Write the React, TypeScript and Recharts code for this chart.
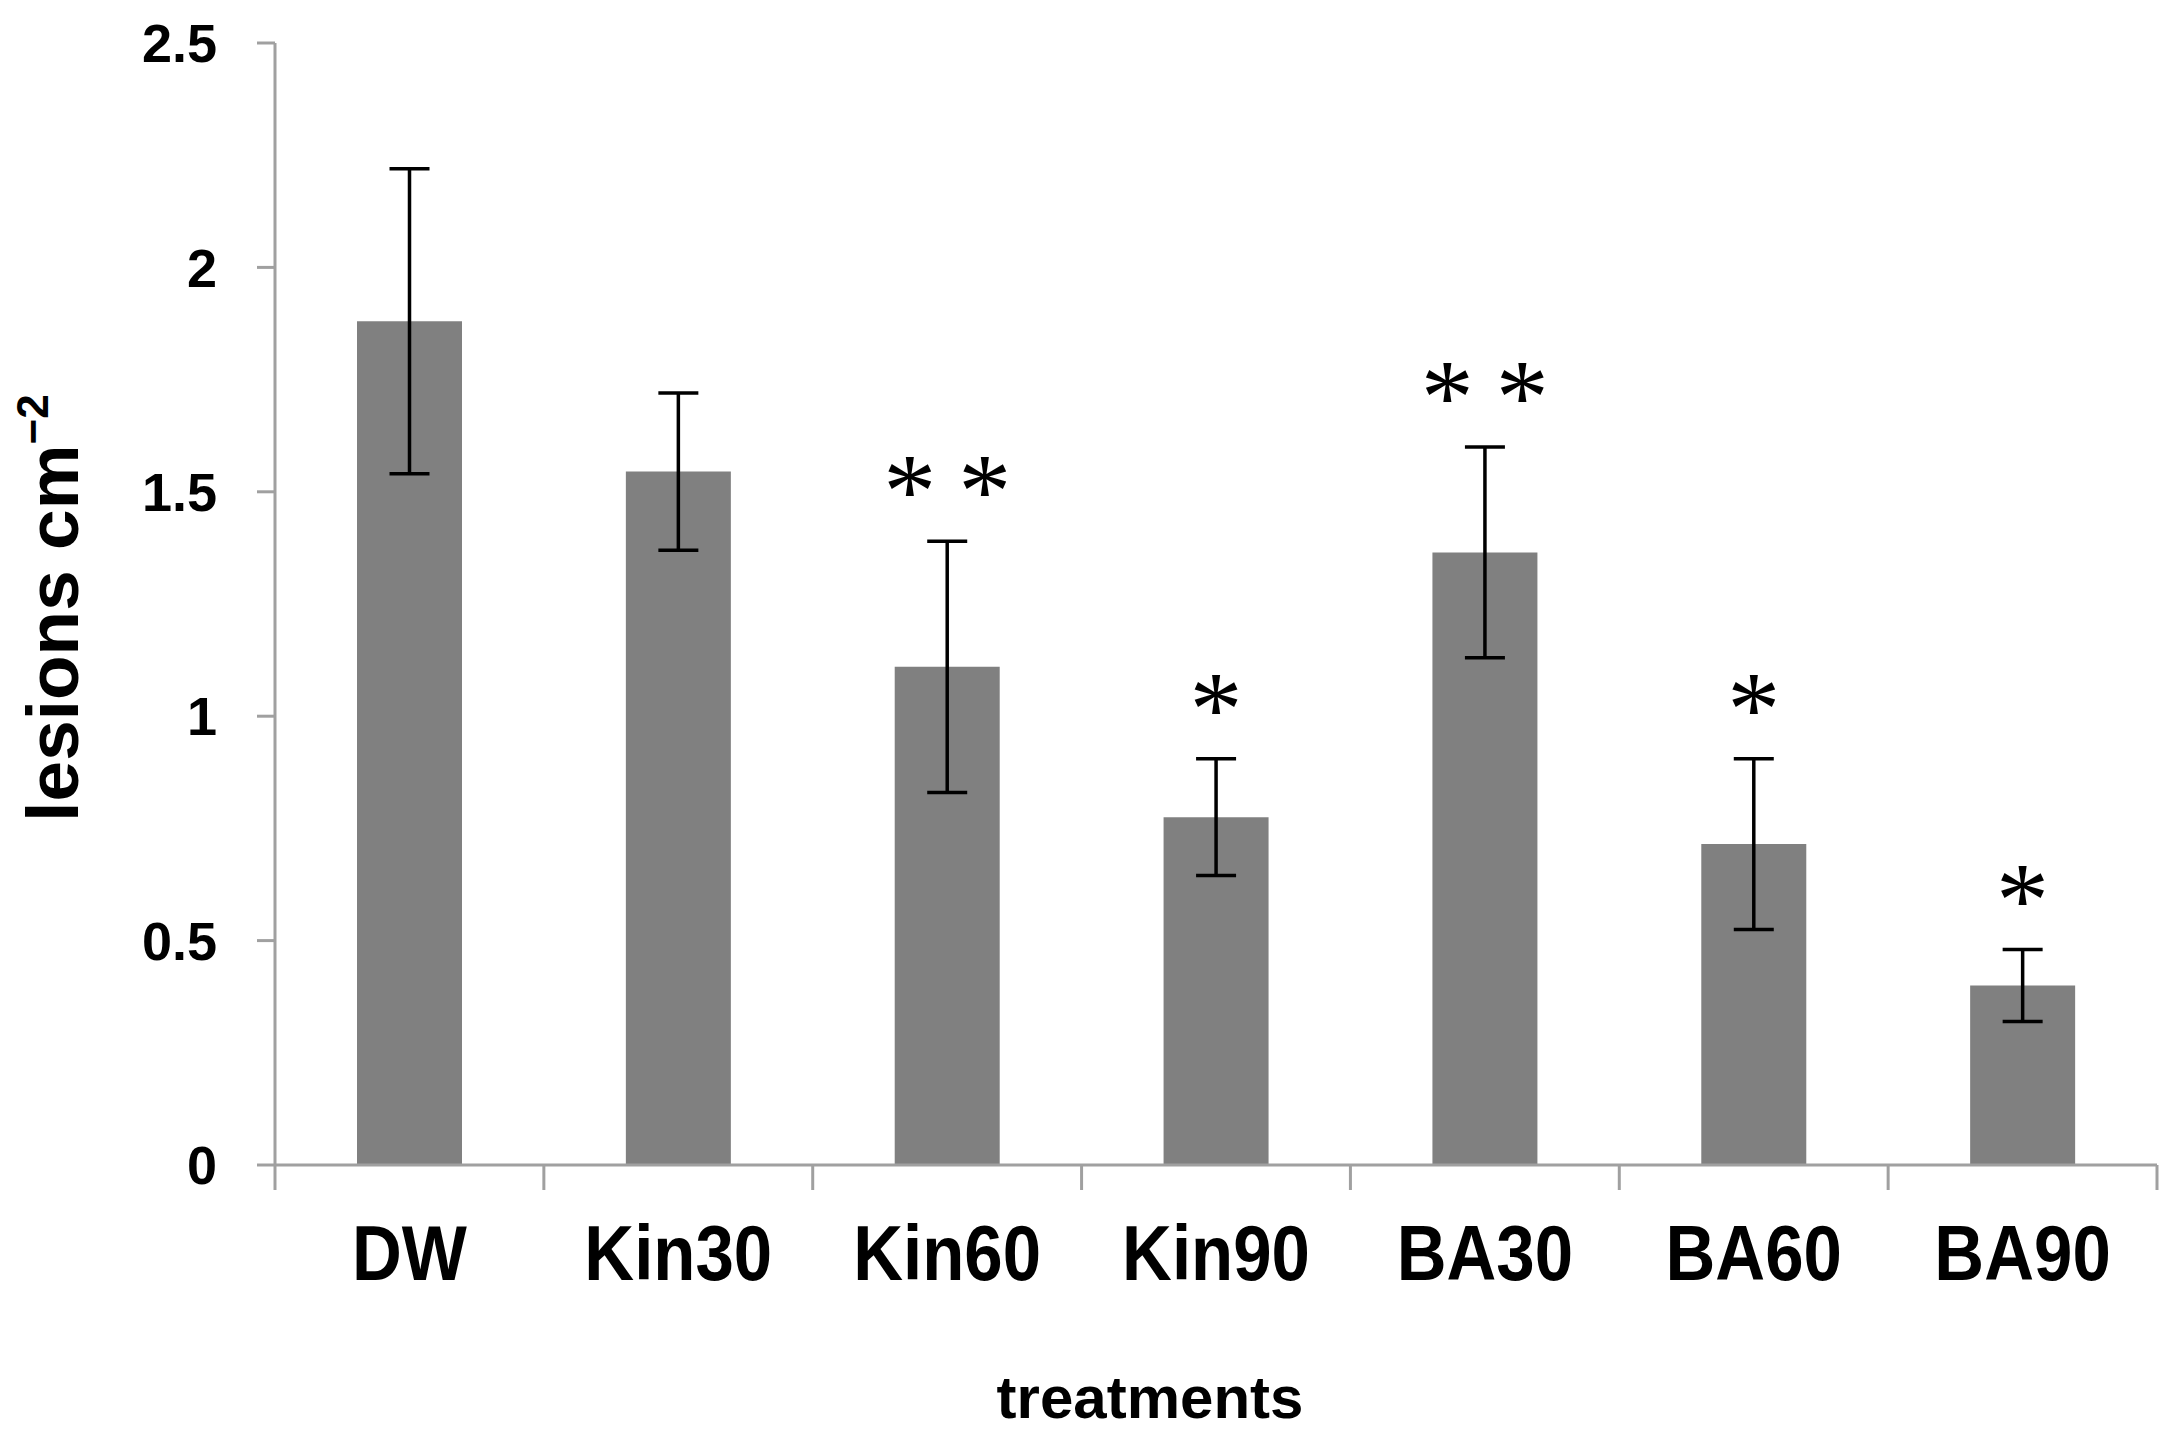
import { Bar, ComposedChart, ErrorBar, Label, LabelList, Line, XAxis, YAxis } from "recharts";

const treatments = ["DW", "Kin30", "Kin60", "Kin90", "BA30", "BA60", "BA90"];
const lesions = [1.88, 1.545, 1.11, 0.775, 1.365, 0.715, 0.4];
const errors = [0.34, 0.175, 0.28, 0.13, 0.235, 0.19, 0.08];
const marks = ["", "", "* *", "*", "* *", "*", "*"];
const yTicks = [0, 0.5, 1, 1.5, 2, 2.5];

const data = treatments.map((name, i) => ({
  name,
  value: lesions[i],
  err: errors[i],
  top: lesions[i] + errors[i],
  mark: marks[i]
}));

const W = 2168;
const H = 1432;
const PLOT_LEFT = 267;
const PLOT_RIGHT = 2149;
const PLOT_TOP = 35;
const PLOT_BOTTOM = 1157;
const BAND = (PLOT_RIGHT - PLOT_LEFT) / treatments.length;
const AXIS = "#a0a0a0";
const FONT = "'Liberation Sans', Arial, sans-serif";

function CategoryTick(props: any) {
  const { x, payload, index } = props;
  const left = x - BAND / 2;
  const right = x + BAND / 2;
  return (
    <g>
      <line x1={left} x2={left} y1={PLOT_BOTTOM} y2={PLOT_BOTTOM + 25} stroke={AXIS} strokeWidth={3} />
      {index === treatments.length - 1 && (
        <line x1={right} x2={right} y1={PLOT_BOTTOM} y2={PLOT_BOTTOM + 25} stroke={AXIS} strokeWidth={3} />
      )}
      <text
        transform={`translate(${x},${PLOT_BOTTOM + 115}) scale(1,1.12)`}
        textAnchor="middle"
        fontSize={69}
        fontWeight={700}
        fontFamily={FONT}
        fill="#000"
      >
        {payload.value}
      </text>
    </g>
  );
}

function StarLabel(props: any) {
  const { x, y, value } = props;
  if (!value) return null;
  const stars = String(value).split(" ");
  return (
    <g>
      {stars.map((s, i) => (
        <text
          key={i}
          x={x + (i - (stars.length - 1) / 2) * 75}
          y={y - 14}
          textAnchor="middle"
          fontSize={106}
          fontFamily="'Liberation Serif', serif"
          fill="#000"
        >
          {s}
        </text>
      ))}
    </g>
  );
}

function YTitle() {
  return (
    <text
      transform="translate(44,600) rotate(-90)"
      textAnchor="middle"
      dominantBaseline="central"
      fontSize={73}
      fontWeight={700}
      fontFamily={FONT}
      fill="#000"
    >
      lesions cm
      <tspan dy={-20} fontSize={44}>
        −2
      </tspan>
    </text>
  );
}

function XTitle() {
  return (
    <text x={1142} y={1410} textAnchor="middle" fontSize={60} fontWeight={700} fontFamily={FONT} fill="#000">
      treatments
    </text>
  );
}

export default function App() {
  return (
    <div>
      <ComposedChart
        width={W}
        height={H}
        data={data}
        margin={{ top: PLOT_TOP, right: W - PLOT_RIGHT, bottom: 0, left: 0 }}
        barSize={105}
      >
        <XAxis
          dataKey="name"
          height={H - PLOT_BOTTOM}
          interval={0}
          axisLine={{ stroke: AXIS, strokeWidth: 3 }}
          tickLine={false}
          tick={<CategoryTick />}
        >
          <Label content={<XTitle />} />
        </XAxis>
        <YAxis
          width={PLOT_LEFT}
          domain={[0, 2.5]}
          ticks={yTicks}
          interval={0}
          tickSize={18}
          tickMargin={40}
          axisLine={{ stroke: AXIS, strokeWidth: 3 }}
          tickLine={{ stroke: AXIS, strokeWidth: 3 }}
          tick={{ fontSize: 54, fontWeight: 700, fill: "#000", fontFamily: FONT }}
          tickFormatter={(v) => String(v)}
        >
          <Label content={<YTitle />} />
        </YAxis>
        <Bar dataKey="value" fill="#808080" isAnimationActive={false}>
          <ErrorBar dataKey="err" width={20} stroke="#000" strokeWidth={3.5} />
        </Bar>
        <Line dataKey="top" stroke="none" dot={false} activeDot={false} legendType="none" isAnimationActive={false}>
          <LabelList dataKey="mark" content={<StarLabel />} />
        </Line>
      </ComposedChart>
    </div>
  );
}
